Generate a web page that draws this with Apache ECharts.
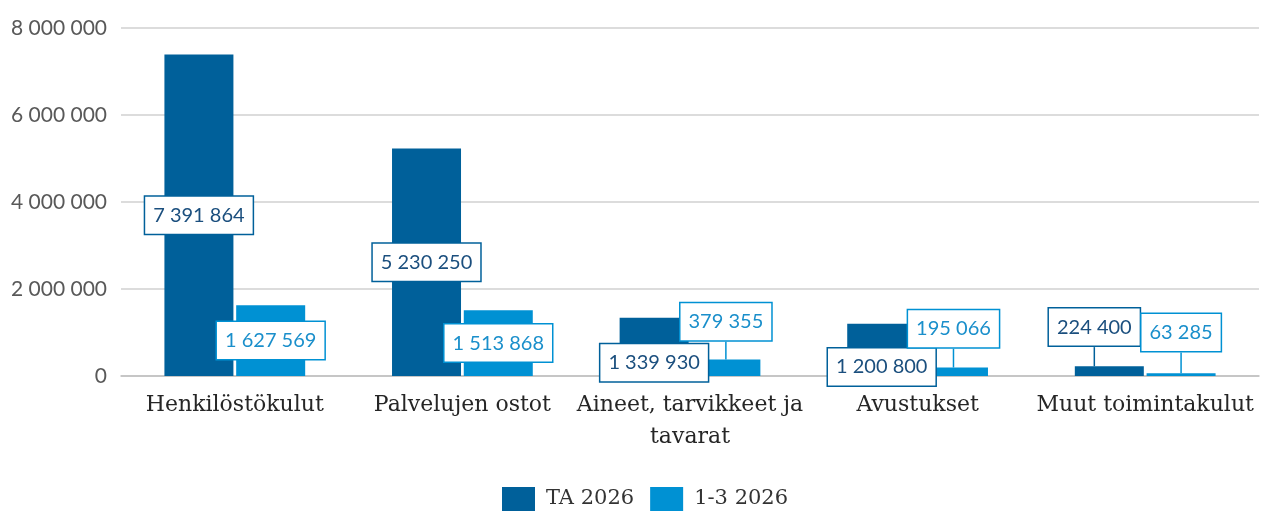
<!DOCTYPE html>
<html><head><meta charset="utf-8">
<script src="https://cdn.jsdelivr.net/npm/echarts@6/dist/echarts.min.js"></script>
<style>html,body{margin:0;padding:0;background:#fff}#c{width:1263px;height:512px}</style>
</head><body><div id="c"></div>
<script>
const categories = ['Henkilöstökulut', 'Palvelujen ostot', 'Aineet, tarvikkeet ja\ntavarat', 'Avustukset', 'Muut toimintakulut'];
const seriesNames = ['TA 2026', '1-3 2026'];
const ta2026 = [7391864, 5230250, 1339930, 1200800, 224400];
const q2026 = [1627569, 1513868, 379355, 195066, 63285];
const yTicks = [0, 2000000, 4000000, 6000000, 8000000];

// label displacement (px) relative to the default inside-centre position
const labelShift = [
  [[0,0],[0,0],[0,16],[0,17],[-15,-44]],
  [[0,0],[0,0],[0,-46],[0,-43],[0,-42]]
];
const colors = ['#00609A', '#0091D3'];
const textColors = ['#1B4F7E', '#1A8FCB'];

function fmt(v){ return String(v).replace(/\B(?=(\d{3})+(?!\d))/g, ' '); }

const chart = echarts.init(document.getElementById('c'));
const mk = (si, data) => ({
  name: seriesNames[si], type: 'bar', data: data,
  barWidth: 69, barGap: '4%',
  itemStyle: {color: colors[si]},
  label: {
    show: true, position: 'inside',
    formatter: p => fmt(p.value),
    color: textColors[si], fontFamily: 'Lato', fontSize: 20,
    backgroundColor: '#fff', borderColor: colors[si], borderWidth: 1.5,
    padding: [9, 8, 8, 8]
  },
  labelLine: {show: true, lineStyle: {color: colors[si], width: 1.5}},
  labelLayout: p => ({dx: labelShift[si][p.dataIndex][0], dy: labelShift[si][p.dataIndex][1]}),
  z: 2
});
chart.setOption({
  animation: false,
  grid: {left: 121, right: 4, top: 28, bottom: 136},
  legend: {
    bottom: -4, left: 497, itemWidth: 33, itemHeight: 24, itemGap: 16,
    textStyle: {fontFamily: 'DejaVu Serif', fontSize: 21, color: '#333', padding: [0, 0, 0, 6]},
    data: seriesNames, icon: 'rect'
  },
  xAxis: {
    type: 'category', data: categories,
    axisLine: {lineStyle: {color: '#BFBFBF', width: 1.5}},
    axisTick: {show: false},
    axisLabel: {fontFamily: 'DejaVu Serif', fontSize: 22, color: '#262626', margin: 13, lineHeight: 32, interval: 0}
  },
  yAxis: {
    type: 'value', min: 0, max: 8000000, interval: 2000000,
    axisLine: {show: false}, axisTick: {show: false},
    splitLine: {lineStyle: {color: '#D0D0D0', width: 1.5}},
    axisLabel: {fontFamily: 'Lato', fontSize: 21, color: '#595959', margin: 14,
      formatter: v => yTicks.includes(v) ? fmt(v) : ''}
  },
  series: [mk(0, ta2026), mk(1, q2026)]
});
</script></body></html>
